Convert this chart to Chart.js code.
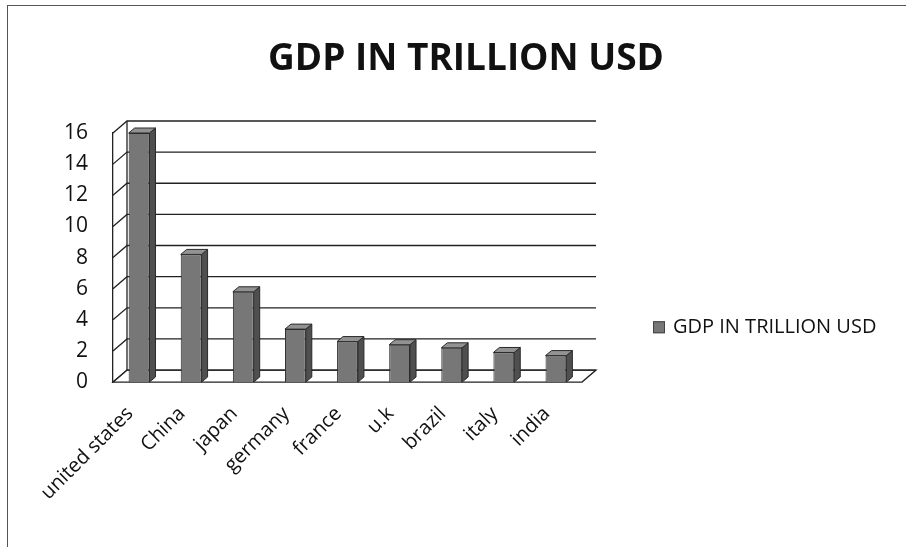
<!DOCTYPE html>
<html>
<head>
<meta charset="utf-8">
<script src="https://cdn.jsdelivr.net/npm/chart.js@4.4.1/dist/chart.umd.min.js"></script>
<style>
  html, body { margin: 0; padding: 0; background: #fff; font-family: 'Open Sans', sans-serif; }
  #wrap { position: relative; width: 906px; height: 547px; }
  #frame { position: absolute; left: 7px; top: 5px; width: 910px; height: 560px; border: 1px solid #555; }
</style>
</head>
<body>
<div id="wrap">
  <div id="frame"></div>
  <canvas id="gdpChart" width="906" height="547"></canvas>
</div>
<script>
// data
const countries = ['united states', 'China', 'japan', 'germany', 'france', 'u.k', 'brazil', 'italy', 'india'];
const gdpTrillion = [16.0, 8.2, 5.8, 3.4, 2.6, 2.4, 2.2, 1.9, 1.7];
const seriesName = 'GDP IN TRILLION USD';
const yTicks = [0, 2, 4, 6, 8, 10, 12, 14, 16];

Chart.defaults.font.family = "'Open Sans', sans-serif";
Chart.defaults.color = '#111';

const BAR_COLOR = '#777777';
// depth of the fake 3d look
const DX = 14, DY = -12;

const wallPlugin = {
  id: 'wall3d',
  beforeDatasetsDraw(chart) {
    const ctx = chart.ctx;
    const y = chart.scales.y;
    const a = chart.chartArea;
    const y0 = y.getPixelForValue(0);
    ctx.save();
    ctx.strokeStyle = '#222';
    ctx.lineWidth = 1.3;
    // floor
    ctx.beginPath();
    ctx.moveTo(a.left, y0);
    ctx.lineTo(a.right, y0);
    ctx.lineTo(a.right + DX, y0 + DY);
    ctx.lineTo(a.left + DX, y0 + DY);
    ctx.closePath();
    ctx.stroke();
    // back wall gridlines + side wall diagonals
    yTicks.forEach(v => {
      const py = y.getPixelForValue(v);
      ctx.beginPath();
      ctx.moveTo(a.left, py);
      ctx.lineTo(a.left + DX, py + DY);
      ctx.lineTo(a.right + DX, py + DY);
      ctx.stroke();
    });
    ctx.beginPath();
    ctx.moveTo(a.left + DX, y0 + DY);
    ctx.lineTo(a.left + DX, y.getPixelForValue(16) + DY);
    ctx.stroke();
    ctx.restore();
  },
  afterDatasetsDraw(chart) {
    const ctx = chart.ctx;
    const meta = chart.getDatasetMeta(0);
    const d = 6, dv = -5;
    ctx.save();
    ctx.strokeStyle = '#2a2a2a';
    ctx.lineWidth = 1;
    meta.data.forEach(bar => {
      const p = bar.getProps(['x', 'y', 'width', 'base'], true);
      const l = p.x - p.width / 2, r = p.x + p.width / 2;
      ctx.fillStyle = '#4f4f4f';
      ctx.beginPath();
      ctx.moveTo(r, p.y);
      ctx.lineTo(r + d, p.y + dv);
      ctx.lineTo(r + d, p.base + dv);
      ctx.lineTo(r, p.base);
      ctx.closePath();
      ctx.fill(); ctx.stroke();
      ctx.fillStyle = '#929292';
      ctx.beginPath();
      ctx.moveTo(l, p.y);
      ctx.lineTo(l + d, p.y + dv);
      ctx.lineTo(r + d, p.y + dv);
      ctx.lineTo(r, p.y);
      ctx.closePath();
      ctx.fill(); ctx.stroke();
    });
    ctx.restore();
  }
};

// legend drawn by hand: the built-in one is capped at a quarter of the width
const sideLegend = {
  id: 'sideLegend',
  afterDraw(chart) {
    const ctx = chart.ctx;
    const a = chart.chartArea;
    const x = a.right + 71;
    const y = a.top + (a.bottom - a.top) * 0.78;
    ctx.save();
    ctx.fillStyle = BAR_COLOR;
    ctx.strokeStyle = '#444';
    ctx.fillRect(x, y - 6, 12, 12);
    ctx.strokeRect(x + 0.5, y - 5.5, 11, 11);
    ctx.fillStyle = '#111';
    ctx.font = "20px 'Open Sans', sans-serif";
    ctx.textBaseline = 'middle';
    ctx.fillText(chart.data.datasets[0].label, x + 20, y);
    ctx.restore();
  }
};

const drawChart = () => {
  new Chart(document.getElementById('gdpChart'), {
    type: 'bar',
    data: {
      labels: countries,
      datasets: [{
        label: seriesName,
        data: gdpTrillion,
        backgroundColor: BAR_COLOR,
        borderColor: '#2a2a2a',
        borderWidth: 1,
        barPercentage: 0.4,
        categoryPercentage: 1
      }]
    },
    options: {
      responsive: false,
      animation: false,
      layout: { padding: { left: 26, right: 0, bottom: 30.4, top: 0 } },
      plugins: {
        title: {
          display: true,
          text: 'GDP IN TRILLION USD',
          color: '#111',
          font: { size: 37, weight: 'bold' },
          padding: { top: 37, bottom: 51.6 }
        },
        legend: { display: false },
        tooltip: { enabled: false }
      },
      scales: {
        x: {
          grid: { display: false },
          border: { display: false },
          ticks: { minRotation: 45, maxRotation: 45, padding: 12, labelOffset: -9, font: { size: 20 }, color: '#111' }
        },
        y: {
          min: 0,
          max: 16,
          grid: { display: false },
          border: { display: true, color: '#222', width: 1.3 },
          ticks: { stepSize: 2, padding: 17, font: { size: 21 }, color: '#111' },
          afterFit(s) { s.width = 87; }
        },
        // empty axis that only keeps room free for the legend on the right
        spacer: {
          position: 'right',
          grid: { display: false },
          border: { display: false },
          ticks: { display: false },
          afterFit(s) { s.width = 324; }
        }
      }
    },
    plugins: [wallPlugin, sideLegend]
  });
};

// make sure the canvas gets the real font, not a fallback
Promise.all([
  document.fonts.load("20px 'Open Sans'"),
  document.fonts.load("bold 37px 'Open Sans'")
]).then(drawChart, drawChart);
</script>
</body>
</html>
